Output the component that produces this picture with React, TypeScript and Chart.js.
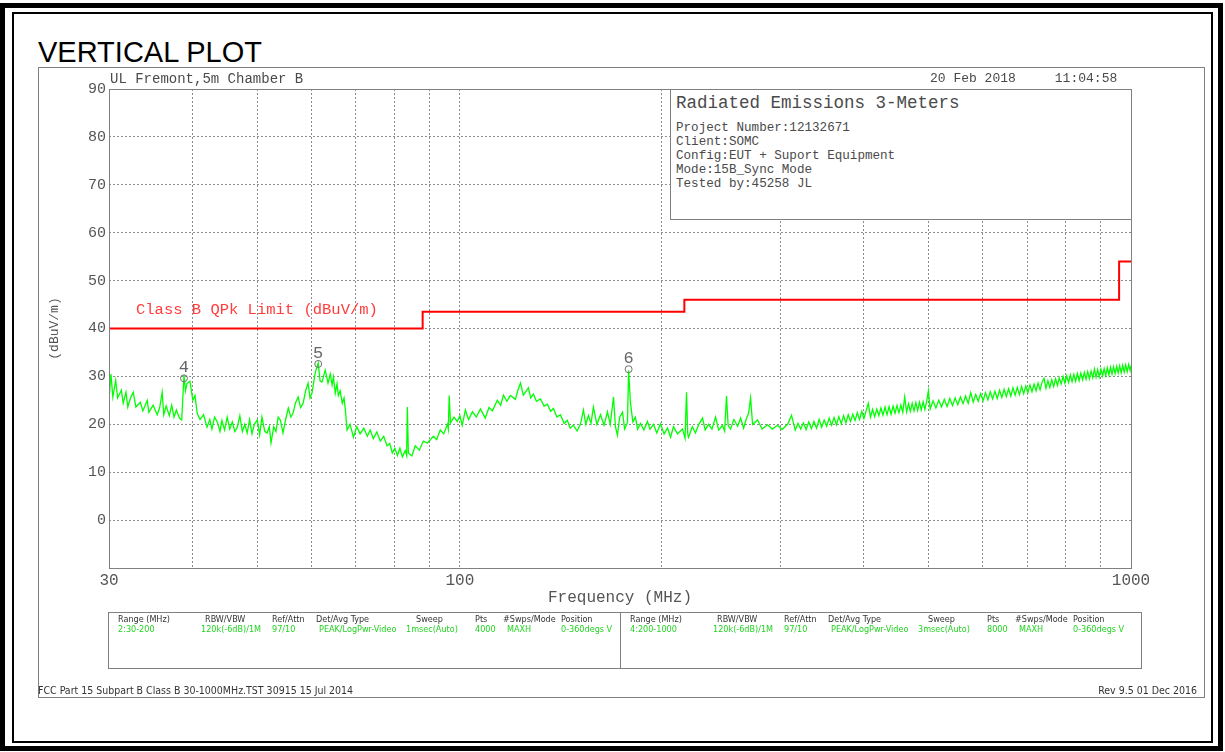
import React, { useEffect, useRef } from 'react';
import { Chart, registerables } from 'chart.js';

Chart.register(...registerables);

// ---------------- data ----------------
const traceFreqMHz = [
  30.0, 30.2, 30.4, 30.7, 30.9, 31.3, 31.5, 31.8, 32.0, 32.3,
  32.6, 32.9, 33.4, 33.7, 34.2, 34.4, 34.9, 35.4, 35.7, 36.0,
  36.2, 36.5, 36.9, 37.2, 37.5, 37.8, 38.2, 38.5, 38.8, 39.0,
  39.2, 39.6, 40.0, 40.3, 40.6, 41.0, 41.5, 42.0, 42.4, 42.7,
  43.1, 43.5, 43.9, 44.2, 44.6, 45.0, 45.4, 45.8, 46.2, 46.6,
  47.0, 47.4, 47.8, 48.2, 48.6, 49.0, 49.4, 49.9, 50.3, 50.7,
  51.2, 51.6, 52.0, 52.3, 52.8, 53.2, 53.6, 54.0, 54.5, 55.0,
  55.5, 56.0, 56.4, 56.9, 57.4, 57.9, 58.4, 58.9, 59.4, 59.8,
  60.2, 60.9, 61.5, 61.9, 62.3, 63.0, 63.6, 64.1, 64.5, 64.8,
  65.2, 65.6, 65.9, 66.3, 66.8, 67.2, 67.5, 67.9, 68.6, 69.4,
  70.2, 71.0, 71.9, 72.8, 73.5, 74.3, 75.2, 76.1, 77.0, 77.9,
  78.6, 79.3, 80.0, 80.7, 81.4, 82.1, 82.9, 83.3, 83.5, 83.8,
  84.8, 85.8, 87.0, 88.2, 89.5, 91.3, 92.3, 93.5, 94.6, 95.8,
  96.1, 96.4, 96.8, 98.0, 99.1, 100.0, 100.8, 101.9, 103.0, 104.4,
  105.8, 107.3, 109.1, 110.5, 111.8, 113.7, 115.0, 116.1, 117.5, 118.9,
  121.0, 122.0, 123.1, 124.3, 126.5, 127.5, 128.7, 130.0, 131.8, 133.5,
  135.0, 136.5, 137.8, 139.5, 141.2, 143.0, 144.6, 146.0, 147.6, 149.5,
  151.2, 152.8, 154.0, 155.4, 156.8, 158.1, 160.0, 162.0, 164.0, 165.9,
  167.5, 169.4, 170.5, 171.7, 173.0, 174.7, 176.0, 177.7, 178.4, 179.5,
  181.0, 182.6, 184.0, 185.8, 188.0, 190.3, 192.0, 194.3, 196.5, 199.0,
  201.5, 203.9, 206.0, 208.1, 211.0, 214.6, 216.5, 217.6, 218.5, 219.1,
  222.0, 224.4, 227.0, 229.9, 232.0, 234.7, 237.5, 240.4, 243.0, 246.2,
  248.0, 249.6, 251.0, 253.1, 256.0, 259.3, 262.0, 264.7, 267.0, 269.2,
  271.1, 273.0, 277.7, 282.0, 287.4, 292.0, 297.5, 302.0, 307.9, 312.0,
  316, 319, 322, 325, 328, 331, 334, 337, 340, 343,
  346, 349, 352, 355, 358, 361, 364, 367, 370, 373,
  376, 379, 382, 385, 388, 391, 394, 397, 400, 403,
  406, 409, 412, 415, 418, 421, 424, 427, 430, 433,
  436, 439, 442, 445, 448, 451, 454, 457, 460, 463,
  466, 469, 472, 475, 478, 481, 484, 487, 490, 493,
  496, 499,
  502, 507, 512, 517, 522, 527, 532, 537, 542, 547,
  552, 557, 562, 567, 572, 577, 582, 587, 592, 597,
  602, 607, 612, 617, 622, 627, 632, 637, 642, 647,
  652, 657, 662, 667, 672, 677, 682, 687, 692, 697,
  702, 707, 712, 717, 722, 727, 732, 737, 742, 747,
  752, 757, 762, 767, 772, 777, 782, 787, 792, 797,
  802, 807, 812, 817, 822, 827, 832, 837, 842, 847,
  852, 857, 862, 867, 872, 877, 882, 887, 892, 897,
  902, 907, 912, 917, 922, 927, 932, 937, 942, 947,
  952, 957, 962, 967, 972, 977, 982, 987, 992, 997,
  1000,
];

const traceLevel = [
  25.0, 30.5, 25.7, 29.2, 25.5, 27.1, 24.4, 26.7, 23.6, 25.5,
  26.7, 23.6, 24.6, 22.8, 25.0, 22.5, 24.0, 22.0, 23.5, 26.7,
  22.0, 23.8, 21.8, 24.0, 21.5, 23.0, 21.3, 20.9, 30.3, 27.0,
  28.5, 29.0, 25.0, 26.0, 22.3, 21.0, 22.0, 19.4, 21.0, 19.0,
  21.5, 20.5, 18.5, 20.8, 18.8, 21.5, 19.0, 20.5, 18.5, 19.4,
  21.8, 18.5, 20.0, 18.2, 21.0, 18.0, 20.0, 20.9, 17.8, 21.5,
  18.5, 18.2, 19.5, 16.1, 19.5, 18.5, 21.5, 20.9, 18.2, 21.0,
  23.4, 21.5, 22.3, 24.5, 25.7, 23.5, 24.4, 27.0, 28.6, 25.5,
  26.5, 30.9, 32.8, 29.0, 28.8, 31.3, 28.6, 30.5, 28.2, 29.9,
  26.5, 28.5, 26.0, 27.0, 24.4, 25.5, 23.0, 18.8, 20.0, 17.3,
  19.5, 18.0, 19.2, 17.5, 18.8, 17.0, 18.4, 16.5, 17.5, 15.5,
  16.0, 14.0, 15.0, 13.5, 15.0, 13.2, 14.5, 13.5, 23.6, 14.0,
  13.4, 15.5, 14.6, 16.5, 16.1, 17.5, 16.8, 18.8, 18.0, 20.0,
  19.0, 26.0, 20.3, 21.5, 20.6, 21.8, 19.8, 23.0, 21.0, 22.6,
  21.5, 23.2, 21.3, 23.5, 22.8, 25.0, 24.0, 26.1, 24.8, 26.0,
  25.2, 27.1, 28.6, 26.1, 27.6, 25.5, 26.3, 24.8, 25.3, 23.8,
  24.2, 22.7, 23.3, 21.5, 22.0, 20.2, 20.8, 19.2, 19.8, 18.6,
  20.0, 23.0, 20.0, 21.8, 20.2, 23.6, 20.0, 22.0, 19.8, 22.6,
  20.0, 25.7, 19.5, 17.7, 21.5, 22.5, 19.0, 20.4, 31.3, 24.6,
  20.5, 21.5, 19.0, 20.2, 18.8, 20.6, 19.0, 20.0, 18.2, 20.1,
  18.0, 19.2, 17.3, 19.5, 18.0, 19.0, 17.1, 26.7, 18.0, 17.3,
  19.5, 18.2, 20.0, 21.3, 18.8, 20.0, 19.0, 21.5, 18.8, 19.8,
  18.6, 25.9, 19.8, 19.0, 21.0, 19.6, 21.3, 19.2, 21.0, 22.3,
  25.5, 20.0, 20.9, 19.0, 19.9, 19.0, 19.8, 18.9, 20.0, 21.9,
  18.8, 20.2, 19.0, 20.3, 18.9, 20.5, 19.1, 20.6, 19.2, 21.0,
  19.4, 20.9, 19.6, 21.3, 19.8, 21.4, 19.9, 21.6, 20.1, 21.8,
  20.3, 22.0, 20.6, 22.1, 20.8, 22.4, 21.0, 22.7, 21.2, 22.8,
  24.4, 21.5, 23.1, 21.6, 23.2, 21.8, 23.4, 21.9, 23.6, 22.0,
  23.7, 22.1, 23.8, 22.3, 23.9, 22.4, 24.0, 22.5, 25.7, 22.6,
  24.3, 22.7, 24.4, 22.8, 24.5, 22.9, 24.6, 23.0, 24.7, 23.1,
  24.8, 27.0,
  23.2, 24.9, 23.4, 25.0, 23.6, 25.2, 23.7, 25.4, 23.9, 25.5,
  24.1, 25.7, 24.3, 25.9, 24.4, 26.6, 24.6, 26.2, 24.8, 26.4,
  24.9, 26.6, 25.1, 26.8, 25.3, 26.9, 25.4, 27.1, 25.6, 27.3,
  25.8, 27.4, 25.9, 27.6, 26.1, 27.7, 26.2, 27.9, 26.4, 28.0,
  26.6, 28.2, 26.8, 28.4, 27.0, 28.6, 27.2, 28.8, 29.6, 27.5,
  29.1, 27.7, 29.3, 27.9, 29.5, 28.1, 29.7, 28.4, 30.0, 28.6,
  30.1, 28.7, 30.3, 28.9, 30.4, 29.0, 30.6, 29.1, 30.7, 29.3,
  30.8, 29.4, 31.0, 29.5, 31.1, 29.7, 31.5, 29.8, 31.4, 29.9,
  31.5, 30.1, 31.6, 30.2, 31.8, 30.3, 31.9, 30.5, 32.0, 30.6,
  32.1, 30.7, 32.2, 30.8, 32.3, 30.9, 32.4, 31.0, 32.5, 31.2,
  32.3,
];

const limitFreqMHz = [30, 88, 216, 960, 1000];
const limitLevel = [40, 43.5, 46, 54, 54];
const limitLabel = 'Class B QPk Limit (dBuV/m)';

const markerLabels = ['4', '5', '6'];
const markerFreqMHz = [38.8, 61.5, 178.4];
const markerLevel = [29.6, 32.6, 31.5];

const xGridMHz = [30, 40, 50, 60, 70, 80, 90, 100, 200, 300, 400, 500, 600, 700, 800, 900, 1000];
const xLabelMHz = [30, 100, 1000];
const yMin = -10;
const yMax = 90;
const yStep = 10;

const infoTitle = 'Radiated Emissions 3-Meters';
const infoLines = [
  'Project Number:12132671',
  'Client:SOMC',
  'Config:EUT + Suport Equipment',
  'Mode:15B_Sync Mode',
  'Tested by:45258 JL',
];

const tableHeaders = ['Range (MHz)', 'RBW/VBW', 'Ref/Attn', 'Det/Avg Type', 'Sweep', 'Pts', '#Swps/Mode', 'Position'];
const tableRowLeft = ['2:30-200', '120k(-6dB)/1M', '97/10', 'PEAK/LogPwr-Video', '1msec(Auto)', '4000', 'MAXH', '0-360degs V'];
const tableRowRight = ['4:200-1000', '120k(-6dB)/1M', '97/10', 'PEAK/LogPwr-Video', '3msec(Auto)', '8000', 'MAXH', '0-360degs V'];

// ---------------- styles ----------------
const MONO = '"Liberation Mono", "DejaVu Sans Mono", monospace';
const COND = '"DejaVu Sans Condensed", "Liberation Sans Narrow", "DejaVu Sans", sans-serif';
const GRAY_TEXT = '#4a4a4a';
const FRAME = '#808080';

const headerColX = [118, 205, 272, 316, 416, 475, 503, 561];
const valueColX = [118, 201, 272, 319, 406, 475, 507, 561];
const rightOffset = 512;

const abs = (o: React.CSSProperties): React.CSSProperties => ({ position: 'absolute', margin: 0, whiteSpace: 'pre', lineHeight: 1, ...o });

export default function App() {
  const canvasRef = useRef<HTMLCanvasElement | null>(null);

  useEffect(() => {
    document.body.style.margin = '0';
    const canvas = canvasRef.current;
    if (!canvas) return;

    const overlay = {
      id: 'emcOverlay',
      afterDatasetsDraw(chart: any) {
        const { ctx, chartArea: a, scales } = chart;
        const xs = scales.x;
        const ys = scales.y;
        ctx.save();
        ctx.strokeStyle = FRAME;
        ctx.lineWidth = 1;
        ctx.strokeRect(Math.round(a.left) + 0.5, Math.round(a.top) + 0.5, Math.round(a.right - a.left), Math.round(a.bottom - a.top));

        ctx.fillStyle = '#ff3c3c';
        ctx.font = `15.5px ${MONO}`;
        ctx.textAlign = 'left';
        ctx.textBaseline = 'alphabetic';
        ctx.fillText(limitLabel, xs.getPixelForValue(limitFreqMHz[0]) + 27, ys.getPixelForValue(limitLevel[0]) - 15);

        ctx.fillStyle = '#666';
        ctx.font = `17px ${MONO}`;
        ctx.textAlign = 'center';
        markerLabels.forEach((lab, i) => {
          const px = xs.getPixelForValue(markerFreqMHz[i]);
          const py = ys.getPixelForValue(markerLevel[i]);
          ctx.fillText(lab, px, py - 6);
        });
        ctx.restore();
      },
    };

    const chart = new Chart(canvas, {
      type: 'line',
      data: {
        datasets: [
          {
            label: 'Trace',
            data: traceFreqMHz.map((f, i) => ({ x: f, y: traceLevel[i] })),
            borderColor: '#00ff00',
            borderWidth: 1.3,
            pointRadius: 0,
            tension: 0,
            order: 3,
          },
          {
            label: 'Limit',
            data: limitFreqMHz.map((f, i) => ({ x: f, y: limitLevel[i] })),
            borderColor: '#ff0000',
            borderWidth: 2,
            pointRadius: 0,
            stepped: 'before',
            order: 2,
          },
          {
            label: 'Markers',
            data: markerFreqMHz.map((f, i) => ({ x: f, y: markerLevel[i] })),
            showLine: false,
            pointRadius: 3.5,
            pointStyle: 'circle',
            borderColor: '#707070',
            backgroundColor: 'rgba(0,0,0,0)',
            pointBorderWidth: 1,
            order: 1,
          },
        ],
      } as any,
      options: {
        responsive: false,
        animation: false,
        devicePixelRatio: 1,
        layout: { padding: { left: 40, right: 94, top: 89, bottom: 144 } },
        plugins: { legend: { display: false }, tooltip: { enabled: false } },
        scales: {
          x: {
            type: 'logarithmic',
            min: 30,
            max: 1000,
            afterBuildTicks: (s: any) => {
              s.ticks = xGridMHz.map((v) => ({ value: v }));
            },
            afterFit: (s: any) => {
              s.height = 40;
            },
            ticks: {
              autoSkip: false,
              maxRotation: 0,
              minRotation: 0,
              padding: 3,
              color: '#555',
              font: { family: MONO, size: 16 },
              callback: (v: any) => (xLabelMHz.includes(Number(v)) ? String(v) : ''),
            },
            grid: { color: '#8c8c8c', lineWidth: 1, drawTicks: false },
            border: { display: false, dash: [2, 2] },
            title: {
              display: true,
              text: 'Frequency (MHz)',
              color: '#555',
              font: { family: MONO, size: 16 },
              padding: { top: 0, bottom: 1 },
            },
          },
          y: {
            type: 'linear',
            min: yMin,
            max: yMax,
            afterFit: (s: any) => {
              s.width = 69;
            },
            ticks: {
              stepSize: yStep,
              padding: 3,
              color: '#555',
              font: { family: MONO, size: 15 },
              callback: (v: any) => (Number(v) < 0 ? '' : String(v)),
            },
            grid: { color: '#8c8c8c', lineWidth: 1, drawTicks: false },
            border: { display: false, dash: [2, 2] },
            title: {
              display: true,
              text: '(dBuV/m)',
              color: '#555',
              font: { family: MONO, size: 13 },
              padding: { top: 7, bottom: 0 },
            },
          },
        },
      } as any,
      plugins: [overlay],
    });

    return () => chart.destroy();
  }, []);

  const smallText = (t: string, x: number, y: number, color: string, key: string) => (
    <div key={key} style={abs({ left: x, top: y, fontFamily: COND, fontSize: 9, color })}>{t}</div>
  );

  return (
    <div style={{ position: 'fixed', left: 0, top: 0, width: 1225, height: 752, background: '#fff', overflow: 'hidden' }}>
      {/* double black border */}
      <div style={{ position: 'absolute', left: 0, top: 3, width: 1223, height: 748, border: '5px solid #000', boxSizing: 'border-box' }} />
      <div style={{ position: 'absolute', left: 12, top: 12, width: 1201, height: 731, border: '2px solid #000', boxSizing: 'border-box' }} />

      <div style={abs({ left: 38, top: 37.5, fontFamily: '"Liberation Sans", Arial, sans-serif', fontSize: 29, color: '#000' })}>VERTICAL PLOT</div>

      {/* gray plotter frame */}
      <div style={{ position: 'absolute', left: 38, top: 67, width: 1167, height: 631, border: `1px solid ${FRAME}`, boxSizing: 'border-box' }} />

      <canvas ref={canvasRef} width={1225} height={752} style={{ position: 'absolute', left: 0, top: 0, width: 1225, height: 752 }} />

      <div style={abs({ left: 110, top: 72, fontFamily: MONO, fontSize: 14, color: GRAY_TEXT })}>UL Fremont,5m Chamber B</div>
      <div style={abs({ left: 930, top: 72.3, fontFamily: MONO, fontSize: 13, color: GRAY_TEXT })}>{'20 Feb 2018     11:04:58'}</div>

      {/* info box */}
      <div style={{ position: 'absolute', left: 670, top: 89, width: 462, height: 131, border: `1px solid ${FRAME}`, boxSizing: 'border-box', background: '#fff' }} />
      <div style={abs({ left: 676, top: 95.3, fontFamily: MONO, fontSize: 17.5, color: GRAY_TEXT })}>{infoTitle}</div>
      {infoLines.map((t, i) => (
        <div key={t} style={abs({ left: 676, top: 121.5 + i * 14, fontFamily: MONO, fontSize: 12.6, color: GRAY_TEXT })}>{t}</div>
      ))}

      {/* settings table */}
      <div style={{ position: 'absolute', left: 108, top: 612, width: 1034, height: 57, border: `1px solid ${FRAME}`, boxSizing: 'border-box' }} />
      <div style={{ position: 'absolute', left: 620, top: 612, width: 1, height: 57, background: FRAME }} />
      {tableHeaders.map((t, i) => smallText(t, headerColX[i], 614.7, '#333', 'hl' + i))}
      {tableRowLeft.map((t, i) => smallText(t, valueColX[i], 624.7, '#22d322', 'vl' + i))}
      {tableHeaders.map((t, i) => smallText(t, headerColX[i] + rightOffset, 614.7, '#333', 'hr' + i))}
      {tableRowRight.map((t, i) => smallText(t, valueColX[i] + rightOffset, 624.7, '#22d322', 'vr' + i))}

      {/* footer */}
      <div style={abs({ left: 38, top: 685, fontFamily: COND, fontSize: 10.5, color: '#333' })}>FCC Part 15 Subpart B Class B 30-1000MHz.TST 30915 15 Jul 2014</div>
      <div style={abs({ right: 1225 - 1197, top: 685, fontFamily: COND, fontSize: 10.5, color: '#333' })}>Rev 9.5 01 Dec 2016</div>
    </div>
  );
}
